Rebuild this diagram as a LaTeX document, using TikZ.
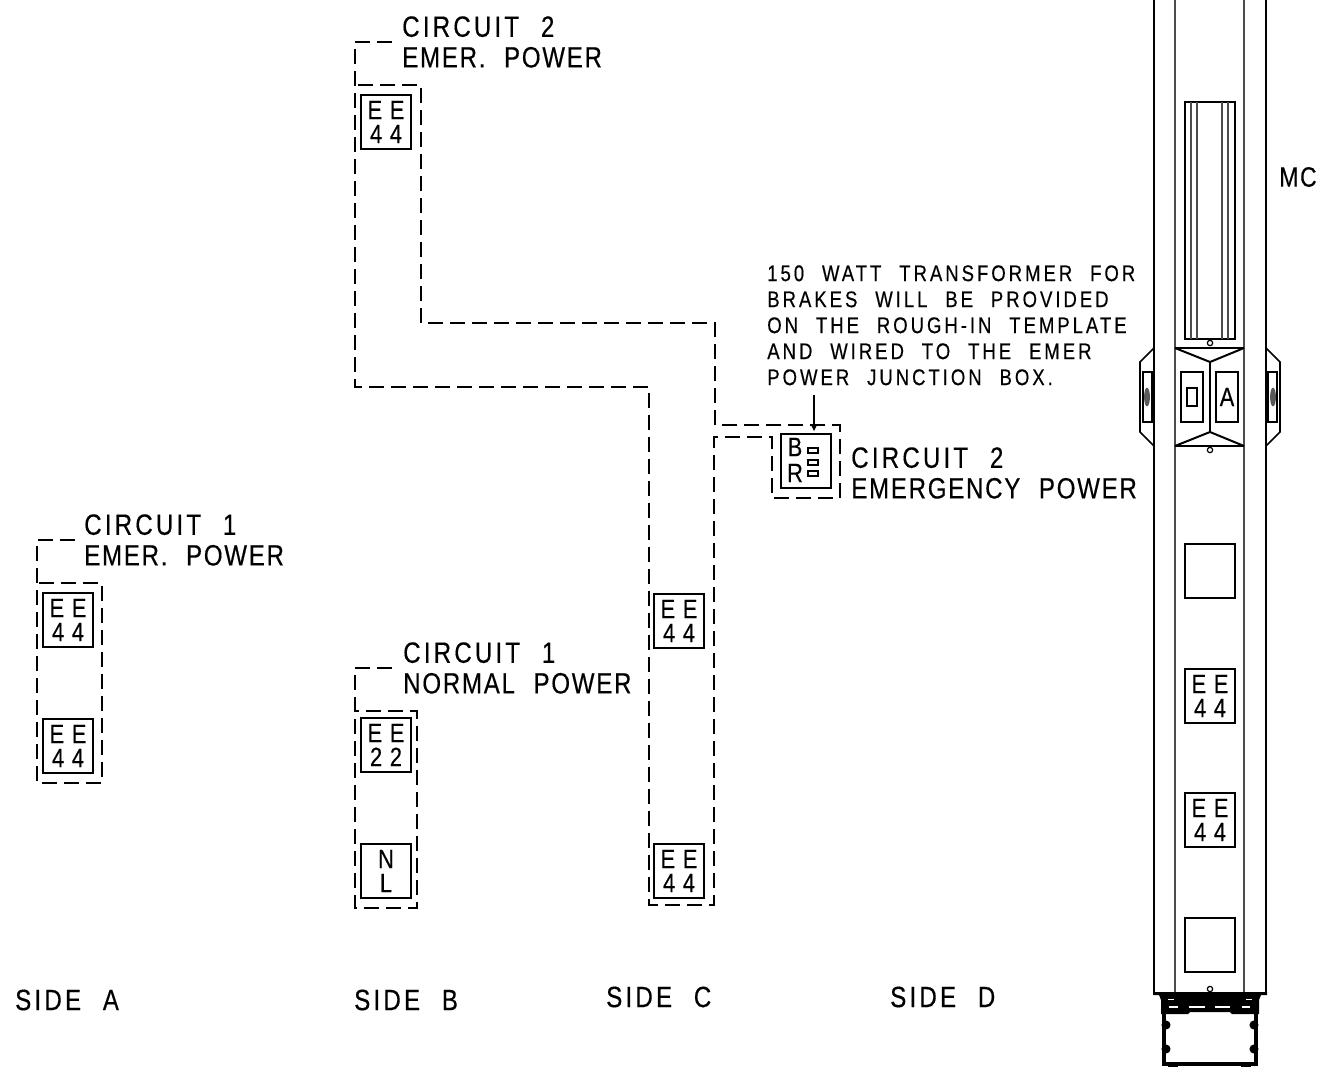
\documentclass[tikz,border=0pt]{standalone}
\usepackage{fontspec}
\setmainfont[FakeStretch=.82,FakeBold=.35,LetterSpace=6,WordSpace=2.2]{Liberation Sans}
\newfontfamily\widefont[FakeStretch=.82,FakeBold=.35,LetterSpace=11,WordSpace=2.2]{Liberation Sans}
\newfontfamily\notefont[FakeStretch=.82,FakeBold=.35,LetterSpace=13,WordSpace=2.2]{Liberation Sans}
\newfontfamily\panelfont[FakeStretch=.82,FakeBold=.35,LetterSpace=6]{Liberation Sans}
\usepackage{tikz}
\usetikzlibrary{calc}

\tikzset{
    wire/.style={line width=1.5pt,dash pattern=on 11pt off 5.5pt},
    panel/.style={draw,line width=1.5pt,minimum width=37.5pt,minimum height=40.5pt,inner sep=0pt,align=center,
        font=\panelfont\fontsize{20}{18}\selectfont},
    label/.style={anchor=west,inner sep=0pt,font=\fontsize{22}{23}\selectfont,align=left},
    widelabel/.style={label,font=\widefont\fontsize{22}{23}\selectfont},
    note/.style={anchor=north west,inner sep=0pt,font=\notefont\fontsize{17}{19.5}\selectfont,align=left},
    frame/.style={line width=1.5pt},
    liner/.style={line width=1pt,black!70},
    pin/.style={circle,draw,line width=.9pt,minimum size=4pt,inner sep=0pt}
}

\begin{document}
\begin{tikzpicture}[x=.75pt,y=-.75pt]
    \useasboundingbox (0,0) rectangle (1317,1068);

    % labels
    \node[label] (c1a) at (84,540) {{\widefont CIRCUIT 1}\\[0pt]EMER. POWER};
    \node[label] (c2b) at (402,42) {{\widefont CIRCUIT 2}\\[0pt]EMER. POWER};
    \node[label] (c1b) at (403,668) {{\widefont CIRCUIT 1}\\[0pt]NORMAL POWER};
    \node[label] (c2c) at (851,473) {{\widefont CIRCUIT 2}\\[0pt]EMERGENCY POWER};
    \node[note] (transnote) at (767,265) {150 WATT TRANSFORMER FOR\\BRAKES WILL BE PROVIDED\\ON THE ROUGH-IN TEMPLATE\\AND WIRED TO THE EMER\\POWER JUNCTION BOX.};
    \node[label,font=\fontsize{21}{23}\selectfont] (mc) at (1279,177) {MC};
    \node[widelabel] (sidea) at (15,1000) {SIDE A};
    \node[widelabel] (sideb) at (354,1000) {SIDE B};
    \node[widelabel] (sidec) at (606,997) {SIDE C};
    \node[widelabel] (sided) at (890,997) {SIDE D};

    % panels
    \foreach \name/\xc/\yc in {a1/68/620,a2/68/746,b1/386/122,c1/679/621,c2/679/871,d1/1210/696,d2/1210/820}
    {%
    \node[panel] (\name) at (\xc,\yc) {E E\\4 4};
    }%
    \node[panel] (b2) at (386,745) {E E\\2 2};
    \node[panel] (b3) at (386,871) {N\\L};
    \node[panel,minimum height=41pt] (br) at (806,461) {};
    \node[inner sep=0pt,font=\panelfont\fontsize{20}{19.5}\selectfont,align=center] (brtext) at (795,460) {B\\R};
    \foreach \yc in {450.5,462.5,473.5}
        \draw[line width=1pt] (808,\yc-2.5) rectangle (818,\yc+2.5);

    % emergency and normal wiring
    \draw[wire] (c1a.west) ++(-9,0) -- (37,540) -- (37,783) -- (102,783) -- (102,583) -- (37,583);
    \draw[wire] (c2b.west) ++(-10,0) -- (355,42) -- (355,387) -- (649,387) -- (649,905) -- (714,905) -- (714,437) -- (772,437)
        -- (772,498) -- (840,498) -- (840,425) -- (715,425) -- (715,323) -- (421,323) -- (421,85) -- (355,85);
    \draw[wire] (c1b.west) ++(-11,0) -- (355,668) -- (355,908) -- (417,908) -- (417,711) -- (355,711);

    % arrow to the brake box
    \coordinate (notetip) at (814,395);
    \coordinate (brtip) at (814,431);
    \draw[line width=1pt,-stealth] (notetip) -- (brtip);

    % column
    \draw[frame] (1154,0) -- (1154,994);
    \draw[frame] (1266,0) -- (1266,994);
    \draw[liner] (1175,0) -- (1175,994);
    \draw[liner] (1244,0) -- (1244,994);
    \draw[frame] (1185,339) -- (1185,102) -- (1235,102) -- (1235,339) -- cycle;
    \foreach \xc in {1191,1197,1222,1228}
        \draw[liner,line width=.9pt] (\xc,102) -- (\xc,339);
    \foreach \name/\yc in {pa/343,pb/450,pc/989}
        \node[pin] (\name) at (1210,\yc) {};

    % door operator
    \draw[frame] (1175,348) -- (1244,348);
    \draw[frame] (1175,446) -- (1244,446);
    \draw[frame] (1175,348) -- (1210,362) -- (1244,348);
    \draw[frame] (1175,446) -- (1210,432) -- (1244,446);
    \draw[frame] (1210,362) -- (1210,432);
    \node[panel,minimum width=16.5pt,minimum height=37.5pt] (doorl) at (1192,397) {};
    \draw[line width=1pt] (1187,388) rectangle (1197,406);
    \node[panel,minimum width=16.5pt,minimum height=37.5pt,font=\panelfont\fontsize{20}{20}\selectfont] (doorr) at (1227,397) {A};

    % side brackets
    \foreach \xa/\xb/\xc/\xd/\xe in {1154/1140/1143/1152/1147,1266/1280/1268/1277/1273}
    {%
    \draw[line width=1.2pt] (\xa,348) -- (\xb,362) -- (\xb,432) -- (\xa,446);
    \draw[frame] (\xc,372) rectangle (\xd,422);
    \fill[black!65] (\xe,397) ellipse (2.2pt and 7pt);
    }%

    % blank covers
    \node[panel] (blank1) at (1210,571) {};
    \node[panel,minimum height=41pt] (blank2) at (1210,945) {};

    % base
    \fill (1153,992) -- (1267,992) -- (1267,995) -- (1261,995) -- (1259,1000) -- (1259,1014) -- (1232,1014) -- (1230,1012) -- (1190,1012) -- (1188,1014)
        -- (1161,1014) -- (1161,1000) -- (1159,995) -- (1153,995) -- cycle;
    \foreach \xa/\xb in {1169/1178,1189/1205,1215/1230,1242/1250}
        \fill[white] (\xa,1006) rectangle (\xb,1008);
    \foreach \xa/\xb in {1168/1174,1246/1252}
        \fill[white] (\xa,998.5) rectangle (\xb,1000);
    \draw[line width=2.4pt] (1164,1012) -- (1164,1064) -- (1256,1064) -- (1256,1012);
    \foreach \yc in {1025,1049}
    {%
    \fill (1166,\yc) circle (3.4pt);
    \fill (1254,\yc) circle (3.4pt);
    }%
    \fill (1168,1062) rectangle (1178,1067);
    \fill (1241,1062) rectangle (1251,1067);
\end{tikzpicture}
\end{document}
